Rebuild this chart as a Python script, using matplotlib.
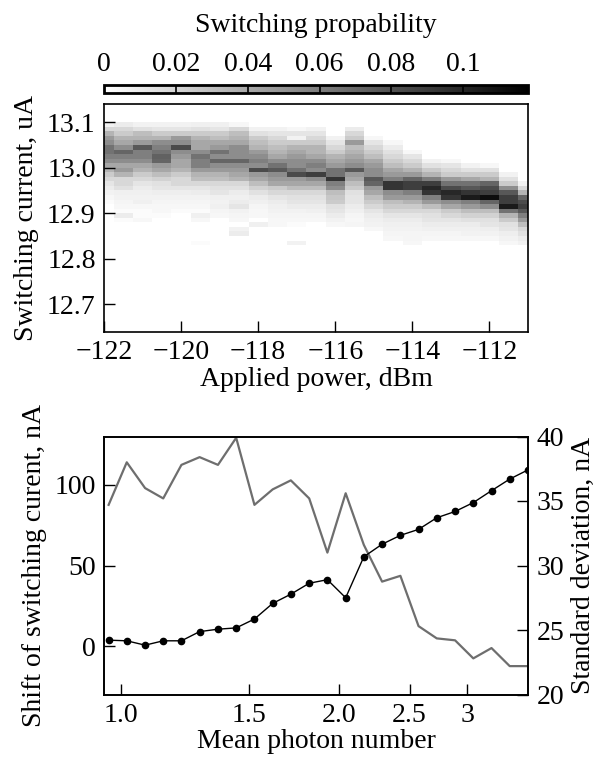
import numpy as np
import matplotlib
matplotlib.use("Agg")
import matplotlib.pyplot as plt
from matplotlib.ticker import FixedLocator, NullLocator

plt.rcParams['font.family'] = ['Liberation Serif', 'DejaVu Serif']
plt.rcParams['font.size'] = 20
plt.rcParams['axes.labelsize'] = 20
plt.rcParams['mathtext.fontset'] = 'stix'

# ---------------- data: heatmap ----------------
power_dbm = [-122.0, -121.5, -121.0, -120.5, -120.0, -119.5, -119.0, -118.5, -118.0,
             -117.5, -117.0, -116.5, -116.0, -115.5, -115.0, -114.5, -114.0, -113.5,
             -113.0, -112.5, -112.0, -111.5, -111.0]
current_bins = [13.095, 13.085, 13.075, 13.065, 13.055, 13.045, 13.035, 13.025, 13.015,
                13.005, 12.995, 12.985, 12.975, 12.965, 12.955, 12.945, 12.935, 12.925,
                12.915, 12.905, 12.895, 12.885, 12.875, 12.865, 12.855, 12.845, 12.835, 12.825]
# switching probability, one list per power column (rows follow current_bins)
switch_prob = [
    [0.006,0.018,0.035,0.047,0.053,0.065,0.065,0.059,0.053,0.041,0.035,0.024,0.018,0.012,0.009,0.006,0.004,0.002,0,0,0,0,0,0,0,0,0,0],
    [0.009,0.018,0.024,0.035,0.041,0.053,0.071,0.059,0.053,0.041,0.047,0.035,0.018,0.018,0.014,0.007,0.006,0.005,0.004,0.002,0.009,0.002,0,0,0,0,0,0],
    [0.006,0.014,0.030,0.035,0.047,0.077,0.059,0.059,0.053,0.041,0.035,0.024,0.018,0.012,0.009,0.007,0.006,0.007,0.004,0.002,0.002,0.004,0,0,0,0,0,0],
    [0.006,0.012,0.024,0.035,0.053,0.059,0.065,0.073,0.071,0.047,0.041,0.030,0.021,0.014,0.012,0.008,0.006,0.005,0.004,0.004,0.002,0,0,0,0,0,0,0],
    [0.006,0.012,0.024,0.047,0.053,0.083,0.053,0.047,0.041,0.041,0.035,0.024,0.018,0.018,0.012,0.008,0.006,0.005,0.004,0.002,0,0,0,0,0,0,0,0],
    [0.007,0.014,0.024,0.035,0.041,0.041,0.053,0.065,0.059,0.059,0.047,0.035,0.030,0.018,0.012,0.009,0.006,0.005,0.004,0.002,0.007,0.004,0,0,0,0,0.002,0],
    [0.007,0.012,0.024,0.030,0.041,0.047,0.065,0.053,0.071,0.053,0.047,0.035,0.030,0.018,0.014,0.012,0.007,0.006,0.007,0.005,0.004,0,0,0,0,0,0,0],
    [0.004,0.018,0.030,0.035,0.041,0.053,0.053,0.053,0.071,0.053,0.047,0.041,0.035,0.018,0.014,0.009,0.007,0.009,0.012,0.006,0.005,0.004,0,0.006,0.009,0,0,0],
    [0,0.006,0.014,0.024,0.030,0.035,0.047,0.053,0.059,0.053,0.083,0.047,0.041,0.030,0.021,0.014,0.009,0.007,0.005,0.004,0.004,0,0.007,0,0,0,0,0],
    [0,0.006,0.012,0.018,0.024,0.030,0.035,0.041,0.053,0.065,0.077,0.053,0.047,0.041,0.024,0.018,0.012,0.009,0.007,0.006,0.005,0.004,0.004,0,0,0,0,0],
    [0,0.004,0.012,0.006,0.024,0.035,0.041,0.047,0.053,0.053,0.065,0.083,0.047,0.041,0.030,0.018,0.014,0.012,0.009,0.006,0.005,0.004,0.002,0,0,0,0.006,0],
    [0,0.006,0.012,0.018,0.024,0.035,0.035,0.041,0.053,0.059,0.053,0.089,0.053,0.041,0.030,0.018,0.014,0.012,0.009,0.007,0.005,0.004,0,0,0,0,0,0],
    [0,0,0,0.006,0.012,0.018,0.024,0.035,0.041,0.047,0.065,0.065,0.094,0.059,0.053,0.030,0.026,0.024,0.014,0.012,0.009,0.006,0.004,0,0,0,0,0],
    [0,0.009,0.018,0.024,0.047,0.030,0.035,0.041,0.047,0.053,0.077,0.047,0.041,0.030,0.024,0.014,0.012,0.012,0.009,0.007,0.005,0.004,0.005,0,0,0,0,0],
    [0,0,0,0.004,0.012,0.018,0.024,0.030,0.041,0.047,0.053,0.053,0.077,0.071,0.047,0.041,0.030,0.024,0.018,0.012,0.009,0.007,0.006,0.004,0,0,0,0],
    [0,0,0,0,0.004,0.009,0.014,0.018,0.024,0.030,0.041,0.047,0.059,0.094,0.094,0.053,0.047,0.030,0.024,0.018,0.012,0.009,0.007,0.006,0.005,0.004,0,0],
    [0,0,0,0,0,0,0.004,0.012,0.018,0.024,0.035,0.047,0.071,0.089,0.089,0.059,0.047,0.035,0.024,0.018,0.012,0.009,0.007,0.006,0.005,0.005,0.004,0],
    [0,0,0,0,0,0,0,0,0.006,0.014,0.024,0.035,0.059,0.089,0.100,0.094,0.059,0.047,0.030,0.018,0.014,0.012,0.009,0.007,0.005,0.004,0,0],
    [0,0,0,0,0,0,0,0,0.004,0.012,0.018,0.024,0.047,0.065,0.083,0.100,0.094,0.053,0.041,0.024,0.018,0.012,0.009,0.007,0.005,0.004,0,0],
    [0,0,0,0,0,0,0,0,0,0.006,0.014,0.024,0.041,0.065,0.077,0.094,0.106,0.059,0.047,0.030,0.021,0.014,0.009,0.007,0.006,0.004,0,0],
    [0,0,0,0,0,0,0,0,0,0.004,0.014,0.024,0.035,0.071,0.083,0.089,0.112,0.071,0.053,0.030,0.021,0.014,0.012,0.008,0.006,0.004,0,0],
    [0,0,0,0,0,0,0,0,0,0,0,0.006,0.014,0.024,0.053,0.077,0.089,0.089,0.106,0.065,0.035,0.024,0.014,0.012,0.008,0.006,0.004,0],
    [0,0,0,0,0,0,0,0,0,0,0,0,0,0.006,0.018,0.035,0.071,0.083,0.089,0.077,0.059,0.047,0.030,0.018,0.014,0.009,0.006,0],
]
cbar_ticks = [0, 0.02, 0.04, 0.06, 0.08, 0.1]
cbar_ticklabels = ['0', '0.02', '0.04', '0.06', '0.08', '0.1']
prob_max = 0.118

# ---------------- data: bottom panel ----------------
photon_number = [0.962, 1.019, 1.080, 1.144, 1.212, 1.284, 1.361, 1.442, 1.528, 1.619,
                 1.715, 1.818, 1.926, 2.041, 2.162, 2.291, 2.428, 2.572, 2.725, 2.888,
                 3.060, 3.242, 3.435, 3.640]
shift_na = [3.7, 3.3, 0.6, 3.3, 3.3, 9.0, 10.5, 11.3, 16.8, 26.5, 32.2, 39.0, 41.2, 30.0,
            55.4, 63.2, 68.7, 72.4, 79.6, 83.5, 89.0, 96.4, 103.6, 109.3]
std_na = [34.7, 38.0, 36.0, 35.2, 37.8, 38.4, 37.8, 39.9, 34.7, 35.9, 36.6, 35.2, 31.0,
          35.6, 31.6, 28.75, 29.2, 25.3, 24.35, 24.2, 22.8, 23.6, 22.2, 22.2]
photon_ticks = [1.0, 1.5, 2.0, 2.5, 3.0]
photon_ticklabels = ['1.0', '1.5', '2.0', '2.5', '3']

# ---------------- figure ----------------
W, H = 606, 758
fig = plt.figure(figsize=(W / 100, H / 100), dpi=100)

def fa(x0, y0, x1, y1):
    return [x0 / W, 1 - y1 / H, (x1 - x0) / W, (y1 - y0) / H]

cax = fig.add_axes(fa(104, 85, 528, 93))
ax1 = fig.add_axes(fa(104, 104, 528, 332))
ax2 = fig.add_axes(fa(104, 436.5, 528, 694.5))

# heatmap
P = np.array(power_dbm)
C = np.array(current_bins)
Z = np.array(switch_prob).T
x_edges = np.concatenate([P - 0.25, [P[-1] + 0.25]])
y_edges = np.concatenate([C + 0.005, [C[-1] - 0.005]])
mesh = ax1.pcolormesh(x_edges, y_edges, Z, cmap='gray_r', vmin=0, vmax=prob_max,
                      shading='flat')
ax1.set_xlim(-122, -111)
ax1.set_ylim(12.639, 13.14)
ax1.set_xticks([-122, -120, -118, -116, -114, -112])
ax1.set_xticklabels(['\u2212122', '\u2212120', '\u2212118', '\u2212116', '\u2212114', '\u2212112'])
ax1.set_yticks([12.7, 12.8, 12.9, 13.0, 13.1])
ax1.set_yticklabels(['12.7', '12.8', '12.9', '13.0', '13.1'])
ax1.tick_params(direction='in', length=8, width=1, top=False, right=False, pad=6)
ax1.set_xlabel('Applied power, dBm', labelpad=1)
ax1.set_ylabel('Switching current, uA', labelpad=6)
for s in ax1.spines.values():
    s.set_linewidth(1.2)

# colorbar
cb = fig.colorbar(mesh, cax=cax, orientation='horizontal')
cb.set_ticks(cbar_ticks)
cb.set_ticklabels(cbar_ticklabels)
cax.xaxis.set_ticks_position('top')
cax.xaxis.set_label_position('top')
cax.tick_params(length=0, pad=6)
cb.outline.set_linewidth(2)
for t in cbar_ticks[1:]:
    cax.axvline(t, color='black', lw=1.2)
cax.set_xlabel('Switching propability', labelpad=14)

# bottom panel
ax2.plot(photon_number, shift_na, '-o', color='black', lw=1.0, ms=4.5, zorder=3)
ax2.set_xscale('log')
ax2.set_xlim(0.948, 3.64)
ax2.set_ylim(-30, 130)
ax2.xaxis.set_major_locator(FixedLocator(photon_ticks))
ax2.xaxis.set_minor_locator(NullLocator())
ax2.set_xticklabels(photon_ticklabels)
ax2.set_yticks([0, 50, 100])
ax2.tick_params(direction='in', length=8, width=1, pad=6)
ax2.set_xlabel('Mean photon number', labelpad=1)
ax2.set_ylabel('Shift of switching curent, nA', labelpad=5)

ax3 = ax2.twinx()
ax3.plot(photon_number, std_na, '-', color='#6e6e6e', lw=1.6, zorder=2)
ax3.set_ylim(20, 40)
ax3.set_yticks([20, 25, 30, 35, 40])
ax3.tick_params(direction='in', length=8, width=1, pad=6)
ax3.set_ylabel('Standard deviation, nA', labelpad=5)
ax2.set_zorder(ax3.get_zorder() + 1)
ax2.patch.set_visible(False)
for a in (ax2, ax3):
    for s in a.spines.values():
        s.set_linewidth(1.2)

fig.savefig('out.png', dpi=100)
